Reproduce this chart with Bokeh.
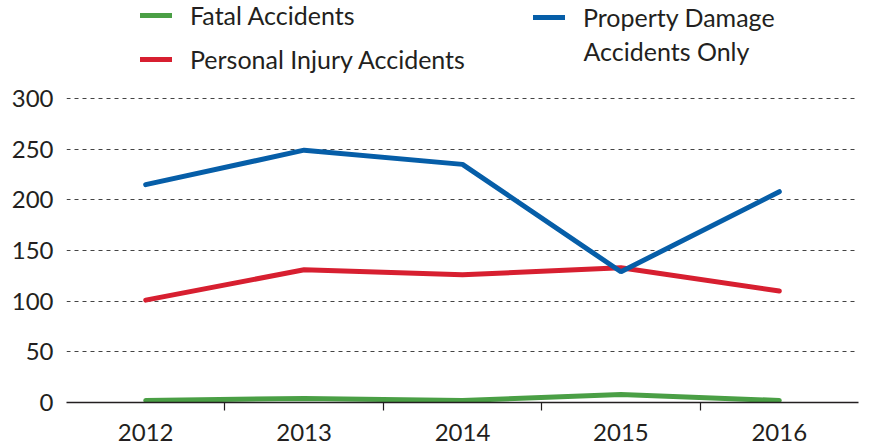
from bokeh.plotting import figure
from bokeh.models import Legend, LegendItem, Label, FixedTicker, Range1d
from bokeh.embed import file_html
from bokeh.resources import INLINE

years = [2012, 2013, 2014, 2015, 2016]
fatal = [2, 4, 2, 8, 2]
injury = [101, 131, 126, 133, 110]
property_damage = [215, 249, 235, 129, 208]
y_ticks = [0, 50, 100, 150, 200, 250, 300]

FONT = "Lato"
TXT = "#231f20"
GREEN = "#4a9f45"
RED = "#d71f30"
BLUE = "#065ea8"

# frame spans whole height above the axis; headroom above 300 holds the legend
p = figure(width=869, height=447, output_backend="svg", toolbar_location=None,
           x_range=Range1d(2011.5, 2016.5), y_range=Range1d(0, 300 * 402 / 304),
           min_border_left=66, min_border_right=11, min_border_top=0, min_border_bottom=45)
p.outline_line_color = None
p.background_fill_color = "white"

rg = p.line(years, fatal, line_color=GREEN, line_width=5, line_cap="round")
rr = p.line(years, injury, line_color=RED, line_width=5, line_cap="round")
rb = p.line(years, property_damage, line_color=BLUE, line_width=5, line_cap="round")

# axes
xa = p.xaxis[0]
xa.ticker = FixedTicker(ticks=years, minor_ticks=[y + 0.5 for y in years[:-1]])
xa.major_tick_line_color = None
xa.major_tick_out = 0
xa.major_tick_in = 0
xa.minor_tick_line_color = TXT
xa.minor_tick_line_width = 1.2
xa.minor_tick_out = 8
xa.minor_tick_in = 0
xa.axis_line_color = TXT
xa.axis_line_width = 1.5
xa.major_label_text_font = FONT
xa.major_label_text_font_size = "24px"
xa.major_label_text_color = TXT
xa.major_label_standoff = 13

ya = p.yaxis[0]
ya.ticker = FixedTicker(ticks=y_ticks)
ya.axis_line_color = None
ya.major_tick_line_color = None
ya.minor_tick_line_color = None
ya.major_tick_out = 0
ya.major_tick_in = 0
ya.major_label_text_font = FONT
ya.major_label_text_font_size = "24px"
ya.major_label_text_color = TXT
ya.major_label_standoff = 13

p.xgrid.grid_line_color = None
p.ygrid.ticker = FixedTicker(ticks=y_ticks[1:])
p.ygrid.grid_line_color = "#444444"
p.ygrid.grid_line_dash = "4 4"
p.ygrid.grid_line_width = 1.2

common = dict(label_text_font=FONT, label_text_font_size="25px", label_text_color=TXT,
              glyph_width=32, glyph_height=28, label_height=28, label_standoff=18,
              padding=0, margin=0, border_line_color=None, background_fill_alpha=0,
              spacing=14)

leg1 = Legend(items=[LegendItem(label="Fatal Accidents", renderers=[rg]),
                     LegendItem(label="Personal Injury Accidents", renderers=[rr])],
              location=(74, 328), **common)
leg2 = Legend(items=[LegendItem(label="Property Damage", renderers=[rb])],
              location=(467, 370), **common)
p.add_layout(leg1, "center")
p.add_layout(leg2, "center")

p.add_layout(Label(x=517, y=352, x_units="screen", y_units="screen",
                   text="Accidents Only", text_font=FONT, text_font_size="25px",
                   text_color=TXT, text_baseline="middle"))

open("out.html", "w").write(file_html(p, INLINE))
